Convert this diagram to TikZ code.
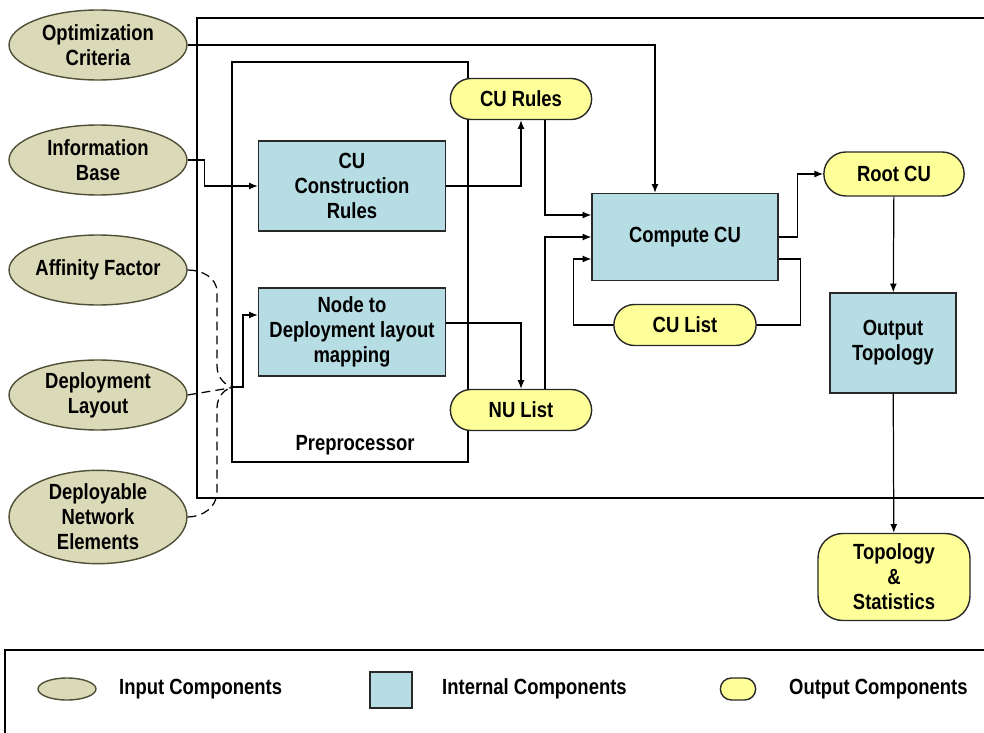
\documentclass[tikz,border=0pt]{standalone}
\usepackage{fontspec}
\setmainfont{Liberation Sans}[FakeStretch=0.84]
\usetikzlibrary{shapes.geometric,shapes.misc,calc,arrows.meta}
\definecolor{inputfill}{RGB}{218,218,184}
\definecolor{inputline}{RGB}{80,80,56}
\definecolor{internalfill}{RGB}{183,221,228}
\definecolor{outputfill}{RGB}{255,255,153}
\definecolor{boxline}{RGB}{40,40,40}
\begin{document}
\begin{tikzpicture}[x=0.02cm,y=-0.02cm,
  font=\fontsize{12.5}{14.2}\selectfont\bfseries,
  inputnode/.style={ellipse,draw=inputline,fill=inputfill,line width=0.8pt,
    minimum width=3.56cm,minimum height=1.4cm,align=center,inner sep=0pt},
  internalnode/.style={rectangle,draw=boxline,fill=internalfill,line width=0.8pt,
    minimum width=3.74cm,minimum height=1.8cm,align=center},
  outputnode/.style={rounded rectangle,draw=boxline,fill=outputfill,line width=0.8pt,
    minimum width=3.06cm,minimum height=0.82cm,align=center},
  arr/.style={-{Latex[length=5pt,width=4pt]},line width=0.7pt},
  wire/.style={line width=0.7pt}]
\useasboundingbox (0,0) rectangle (984,733);

\draw[wire] (197,18) rectangle (995,498);
\draw[wire] (232,62) rectangle (468,462);
\node at (355,445) {Preprocessor};

\node[inputnode] (opt) at (98,45) {Optimization\\Criteria};
\node[inputnode] (info) at (98,160) {Information\\Base};
\node[inputnode] (affinity) at (98,270) {Affinity Factor};
\node[inputnode] (deploy) at (98,395) {Deployment\\Layout};
\node[inputnode,minimum height=1.5cm] (netel) at (98,517) {Deployable\\Network\\Elements};

\node[internalnode] (cucr) at (352,186) {CU\\Construction\\Rules};
\node[internalnode,minimum height=1.76cm] (mapping) at (352,332) {Node to\\Deployment layout\\mapping};
\node[internalnode,minimum width=3.72cm,minimum height=1.74cm] (compute) at (685,237) {Compute CU};
\node[internalnode,minimum width=2.52cm,minimum height=2cm] (outtop) at (893,343) {Output\\Topology};

\node[outputnode] (curules) at (521,99) {CU Rules};
\node[outputnode] (nulist) at (521,410) {NU List};
\node[outputnode,minimum width=3.08cm] (culist) at (685,325) {CU List};
\node[outputnode,minimum width=3.04cm,minimum height=0.88cm] (rootcu) at (894,174) {Root CU};
\node[rectangle,rounded corners=14pt,draw=boxline,fill=outputfill,line width=0.8pt,
  minimum width=3.04cm,minimum height=1.74cm,align=center] (topstat) at (894,577) {Topology\\\&\\Statistics};

\draw[arr] (opt.east) -| ($(compute.north)+(-30,0)$);
\draw[arr] (info.east) -- ++(17,0) |- (cucr.west);
\draw[arr] (cucr.east) -| (curules.south);
\draw[arr] ($(curules.south)+(24,0)$) |- ($(compute.west)+(0,-22)$);
\draw[arr] ($(mapping.east)+(0,-9)$) -| (nulist.north);
\draw[arr] ($(nulist.north)+(24,0)$) |- (compute.west);
\draw[arr] (culist.west) -- ++(-40,0) |- ($(compute.west)+(0,22)$);
\draw[wire] ($(compute.east)+(0,22)$) -- ++(22,0) |- (culist.east);
\draw[arr] (compute.east) -- ++(19,0) |- (rootcu.west);
\draw[arr] (rootcu) -- (outtop);
\draw[arr] (outtop) -- (topstat);

\coordinate (join) at (236,387);
\draw[wire,dash pattern=on 5pt off 3pt] (affinity.east) to[out=0,in=90] (217,292) -- (217,366) to[out=-90,in=180] (join);
\draw[wire,dash pattern=on 5pt off 3pt] (deploy.east) -- (join);
\draw[wire,dash pattern=on 5pt off 3pt] (netel.east) to[out=0,in=-90] (217,492) -- (217,408) to[out=90,in=180] (join);
\draw[arr] (join) -- ++(7,0) |- ($(mapping.west)+(0,-17)$);

\draw[wire] (5,650) rectangle (995,745);
\node[ellipse,draw=inputline,fill=inputfill,line width=0.8pt,minimum width=1.16cm,minimum height=0.44cm] (legin) at (67,689) {};
\node[anchor=west] at (113,689) {Input Components};
\node[rectangle,draw=boxline,fill=internalfill,line width=0.8pt,minimum width=0.84cm,minimum height=0.72cm] (legint) at (391,690) {};
\node[anchor=west] at (436,689) {Internal Components};
\node[rounded rectangle,draw=boxline,fill=outputfill,line width=0.8pt,minimum width=0.94cm,minimum height=0.44cm] (legout) at (738,689) {};
\node[anchor=west] at (783,689) {Output Components};
\end{tikzpicture}
\end{document}
